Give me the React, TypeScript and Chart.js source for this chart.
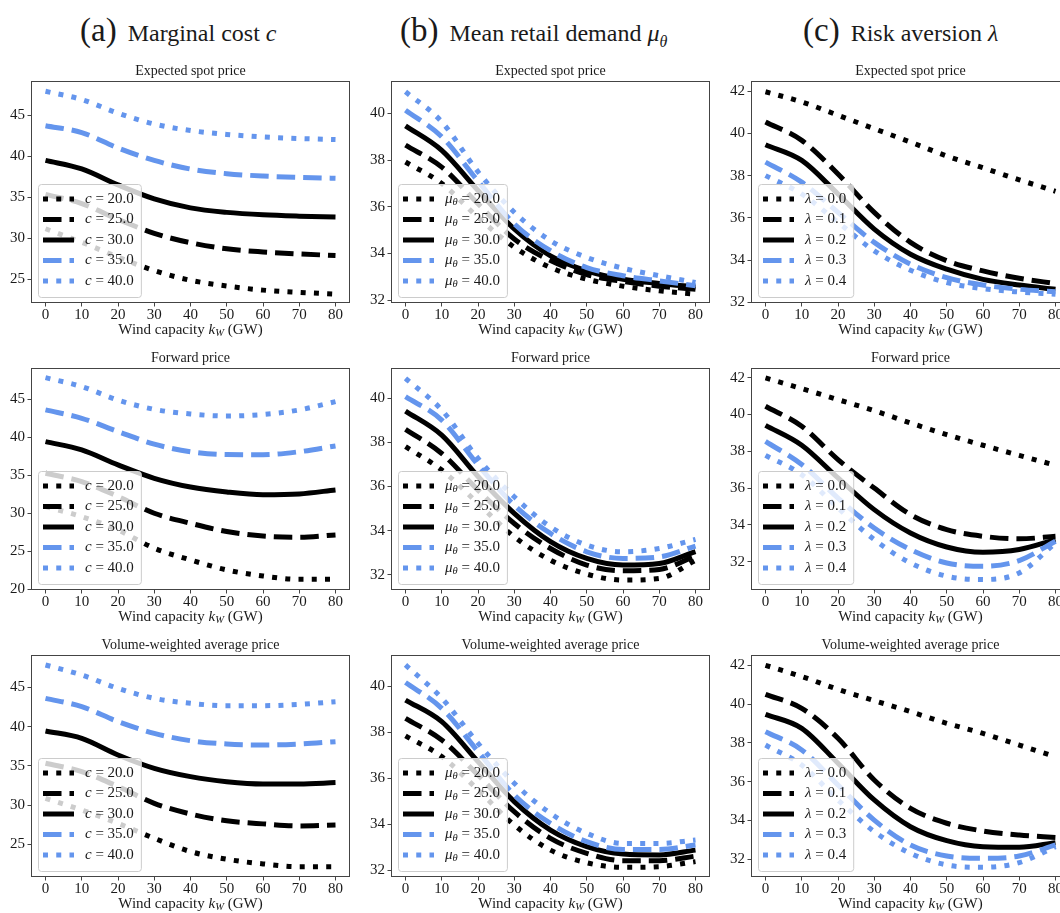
import React, { useEffect, useRef } from "react";
import { Chart, registerables } from "chart.js";
Chart.register(...registerables);

// ---------------- data ----------------
const X_VALUES = [0, 10, 20, 30, 40, 50, 60, 70, 80];
const X_TICKS = [0, 10, 20, 30, 40, 50, 60, 70, 80];

const COST_LABELS = ["20.0", "25.0", "30.0", "35.0", "40.0"];
const DEMAND_LABELS = ["20.0", "25.0", "30.0", "35.0", "40.0"];
const RISK_LABELS = ["0.0", "0.1", "0.2", "0.3", "0.4"];

const Y_TICKS_COST_SPOT = [25, 30, 35, 40, 45];
const Y_TICKS_COST_FWD = [20, 25, 30, 35, 40, 45];
const Y_TICKS_COST_VWAP = [25, 30, 35, 40, 45];
const Y_TICKS_DEMAND = [32, 34, 36, 38, 40];
const Y_TICKS_RISK = [32, 34, 36, 38, 40, 42];

// (a) marginal cost — expected spot price
const SPOT_COST = [
  [31.15, 29.5, 27.7, 26.05, 24.87, 24.17, 23.67, 23.4, 23.19],
  [35.35, 34.23, 32.3, 30.6, 29.45, 28.71, 28.33, 28.08, 27.89],
  [39.49, 38.45, 36.5, 34.8, 33.7, 33.15, 32.85, 32.69, 32.59],
  [43.72, 42.88, 41.0, 39.48, 38.43, 37.87, 37.58, 37.42, 37.31],
  [47.92, 46.91, 45.25, 43.92, 43.13, 42.66, 42.35, 42.16, 42.03],
];
// (b) mean retail demand — expected spot price
const SPOT_DEMAND = [
  [37.92, 37.0, 35.55, 34.27, 33.4, 32.9, 32.6, 32.4, 32.26],
  [38.64, 37.7, 36.13, 34.62, 33.7, 33.1, 32.8, 32.6, 32.47],
  [39.47, 38.42, 36.7, 35.05, 33.9, 33.26, 32.9, 32.72, 32.57],
  [40.14, 39.0, 37.1, 35.27, 34.12, 33.4, 33.05, 32.83, 32.62],
  [40.93, 39.64, 37.5, 35.77, 34.55, 33.83, 33.37, 33.05, 32.76],
];
// (c) risk aversion — expected spot price
const SPOT_RISK = [
  [41.97, 41.49, 40.86, 40.22, 39.59, 38.93, 38.37, 37.8, 37.26],
  [40.54, 39.67, 38.08, 36.26, 34.84, 33.97, 33.49, 33.14, 32.89],
  [39.46, 38.72, 37.13, 35.47, 34.28, 33.57, 33.09, 32.82, 32.62],
  [38.64, 37.69, 36.26, 34.84, 33.81, 33.17, 32.82, 32.62, 32.5],
  [38.0, 37.13, 35.79, 34.44, 33.52, 32.94, 32.65, 32.49, 32.38],
];
// forward price
const FWD_COST = [
  [30.88, 29.56, 27.8, 25.4, 23.86, 22.54, 21.75, 21.3, 21.3],
  [35.26, 34.17, 32.2, 30.0, 28.68, 27.6, 27.0, 26.84, 27.15],
  [39.43, 38.33, 36.36, 34.6, 33.45, 32.8, 32.45, 32.55, 33.07],
  [43.6, 42.5, 40.75, 39.1, 38.1, 37.72, 37.7, 38.1, 38.86],
  [47.85, 46.67, 44.9, 43.68, 43.07, 42.8, 43.0, 43.6, 44.7],
];
const FWD_DEMAND = [
  [37.8, 36.74, 35.23, 33.72, 32.66, 32.03, 31.76, 31.83, 32.65],
  [38.58, 37.49, 35.83, 34.32, 33.19, 32.44, 32.18, 32.24, 32.85],
  [39.41, 38.32, 36.45, 34.78, 33.5, 32.74, 32.44, 32.51, 33.05],
  [40.06, 39.0, 36.97, 35.15, 33.87, 33.04, 32.74, 32.81, 33.3],
  [40.89, 39.46, 37.27, 35.53, 34.17, 33.34, 33.04, 33.19, 33.6],
];
const FWD_RISK = [
  [41.99, 41.41, 40.81, 40.21, 39.54, 38.91, 38.33, 37.78, 37.24],
  [40.45, 39.36, 37.55, 36.0, 34.56, 33.74, 33.38, 33.24, 33.38],
  [39.41, 38.33, 36.55, 34.83, 33.56, 32.8, 32.51, 32.66, 33.2],
  [38.54, 37.28, 35.46, 33.83, 32.66, 31.93, 31.75, 32.06, 33.11],
  [37.78, 36.73, 34.92, 33.2, 31.93, 31.21, 31.03, 31.39, 33.02],
];
// volume-weighted average price
const VWAP_COST = [
  [30.86, 29.37, 27.67, 25.76, 24.07, 23.09, 22.5, 22.15, 22.15],
  [35.32, 34.26, 32.35, 30.22, 28.86, 28.0, 27.6, 27.34, 27.46],
  [39.44, 38.5, 36.38, 34.68, 33.62, 32.98, 32.69, 32.69, 32.86],
  [43.6, 42.54, 40.63, 39.14, 38.2, 37.78, 37.65, 37.78, 38.08],
  [47.85, 46.57, 44.87, 43.6, 42.96, 42.66, 42.66, 42.83, 43.17],
];
const VWAP_DEMAND = [
  [37.84, 36.94, 35.49, 33.96, 32.87, 32.32, 32.12, 32.15, 32.37],
  [38.6, 37.66, 36.14, 34.54, 33.38, 32.73, 32.41, 32.41, 32.61],
  [39.4, 38.46, 36.72, 34.98, 33.74, 33.02, 32.7, 32.66, 32.87],
  [40.16, 39.04, 37.16, 35.27, 34.03, 33.24, 32.9, 32.9, 33.09],
  [40.93, 39.48, 37.52, 35.78, 34.47, 33.6, 33.16, 33.16, 33.31],
];
const VWAP_RISK = [
  [42.0, 41.42, 40.76, 40.18, 39.61, 39.01, 38.49, 37.89, 37.29],
  [40.5, 39.78, 38.24, 36.09, 34.63, 33.86, 33.46, 33.25, 33.13],
  [39.47, 38.75, 36.95, 35.06, 33.68, 32.96, 32.65, 32.62, 32.86],
  [38.58, 37.64, 35.83, 34.02, 32.74, 32.17, 32.05, 32.17, 32.74],
  [37.89, 36.86, 35.06, 33.43, 32.31, 31.71, 31.59, 31.83, 32.65],
];

// ---------------- layout / style ----------------
const FONT = "'Liberation Serif', 'DejaVu Serif', serif";
const BLUE = "#6495ED";
const STYLES = [
  { color: "#000000", dash: [5, 8.25] },
  { color: "#000000", dash: [18.5, 8] },
  { color: "#000000", dash: [] as number[] },
  { color: BLUE, dash: [18.5, 8] },
  { color: BLUE, dash: [5, 8.25] },
];
const COL_LEFT = [31, 391, 751];
const ROW_TOP = [81, 368, 655];
const BOX_W = 319;
const BOX_H = 222;
const PAD_L = 31;
const PAD_T = 22;
const PAD_R = 12;
const PAD_B = 40;
const X_MIN = -4;
const X_MAX = 84;

type Part = { t: string; it?: boolean; sub?: boolean };

function measureParts(ctx: CanvasRenderingContext2D, parts: Part[], size: number) {
  let w = 0;
  for (const p of parts) {
    const s = p.sub ? size * 0.7 : size;
    ctx.font = `${p.it ? "italic " : ""}${s}px ${FONT}`;
    w += ctx.measureText(p.t).width;
  }
  return w;
}
function drawParts(ctx: CanvasRenderingContext2D, parts: Part[], x: number, y: number, size: number) {
  let cx = x;
  ctx.textBaseline = "middle";
  ctx.textAlign = "left";
  for (const p of parts) {
    const s = p.sub ? size * 0.7 : size;
    ctx.font = `${p.it ? "italic " : ""}${s}px ${FONT}`;
    ctx.fillText(p.t, cx, p.sub ? y + size * 0.22 : y);
    cx += ctx.measureText(p.t).width;
  }
  return cx - x;
}
function legendParts(sym: string, label: string): Part[] {
  if (sym === "mu") return [{ t: "μ", it: true }, { t: "θ", it: true, sub: true }, { t: " = " + label }];
  if (sym === "lambda") return [{ t: "λ", it: true }, { t: " = " + label }];
  return [{ t: "c", it: true }, { t: " = " + label }];
}

const decorPlugin = {
  id: "panelDecor",
  afterDraw(chart: any, _args: any, opts: any) {
    const ctx: CanvasRenderingContext2D = chart.ctx;
    const a = chart.chartArea;
    ctx.save();
    // legend
    const size = 15;
    const entries = opts.labels.map((l: string) => legendParts(opts.sym, l));
    let maxW = 0;
    for (const e of entries) maxW = Math.max(maxW, measureParts(ctx, e, size));
    const lw = 47 + maxW + 7;
    const lh = 113;
    const lx = a.left + 7;
    const ly = a.bottom - 6 - lh;
    ctx.beginPath();
    (ctx as any).roundRect(lx + 0.5, ly + 0.5, lw, lh, 3);
    ctx.fillStyle = "rgba(255,255,255,0.8)";
    ctx.fill();
    ctx.strokeStyle = "#cccccc";
    ctx.lineWidth = 1;
    ctx.stroke();
    entries.forEach((e: Part[], i: number) => {
      const cy = ly + 15 + i * 20.5;
      ctx.beginPath();
      ctx.setLineDash(STYLES[i].dash);
      ctx.lineWidth = 5;
      ctx.lineCap = "butt";
      ctx.strokeStyle = STYLES[i].color;
      ctx.moveTo(lx + 5, cy);
      ctx.lineTo(lx + 36, cy);
      ctx.stroke();
      ctx.setLineDash([]);
      ctx.fillStyle = "#1a1a1a";
      drawParts(ctx, e, lx + 47, cy, size);
    });
    // frame
    ctx.setLineDash([]);
    ctx.strokeStyle = "#444444";
    ctx.lineWidth = 1;
    ctx.strokeRect(Math.round(a.left) + 0.5, Math.round(a.top) + 0.5, Math.round(a.right - a.left) - 1, Math.round(a.bottom - a.top) - 1);
    // title
    const cx = (a.left + a.right) / 2;
    ctx.fillStyle = "#1a1a1a";
    ctx.font = `14px ${FONT}`;
    ctx.textAlign = "center";
    ctx.textBaseline = "middle";
    ctx.fillText(opts.title, cx, a.top - 10);
    // x label
    const xl: Part[] = [{ t: "Wind capacity " }, { t: "k", it: true }, { t: "W", it: true, sub: true }, { t: " (GW)" }];
    const w = measureParts(ctx, xl, 15);
    drawParts(ctx, xl, cx - w / 2, a.bottom + 27, 15);
    ctx.restore();
  },
};

type PanelCfg = {
  row: number;
  col: number;
  title: string;
  series: number[][];
  sym: string;
  labels: string[];
  yMin: number;
  yMax: number;
  yTicks: number[];
};

const PANELS: PanelCfg[] = [
  { row: 0, col: 0, title: "Expected spot price", series: SPOT_COST, sym: "c", labels: COST_LABELS, yMin: 22.1, yMax: 49.17, yTicks: Y_TICKS_COST_SPOT },
  { row: 0, col: 1, title: "Expected spot price", series: SPOT_DEMAND, sym: "mu", labels: DEMAND_LABELS, yMin: 31.88, yMax: 41.39, yTicks: Y_TICKS_DEMAND },
  { row: 0, col: 2, title: "Expected spot price", series: SPOT_RISK, sym: "lambda", labels: RISK_LABELS, yMin: 31.97, yMax: 42.48, yTicks: Y_TICKS_RISK },
  { row: 1, col: 0, title: "Forward price", series: FWD_COST, sym: "c", labels: COST_LABELS, yMin: 19.9, yMax: 49.12, yTicks: Y_TICKS_COST_FWD },
  { row: 1, col: 1, title: "Forward price", series: FWD_DEMAND, sym: "mu", labels: DEMAND_LABELS, yMin: 31.31, yMax: 41.36, yTicks: Y_TICKS_DEMAND },
  { row: 1, col: 2, title: "Forward price", series: FWD_RISK, sym: "lambda", labels: RISK_LABELS, yMin: 30.46, yMax: 42.53, yTicks: Y_TICKS_RISK },
  { row: 2, col: 0, title: "Volume-weighted average price", series: VWAP_COST, sym: "c", labels: COST_LABELS, yMin: 20.83, yMax: 49.12, yTicks: Y_TICKS_COST_VWAP },
  { row: 2, col: 1, title: "Volume-weighted average price", series: VWAP_DEMAND, sym: "mu", labels: DEMAND_LABELS, yMin: 31.7, yMax: 41.36, yTicks: Y_TICKS_DEMAND },
  { row: 2, col: 2, title: "Volume-weighted average price", series: VWAP_RISK, sym: "lambda", labels: RISK_LABELS, yMin: 31.09, yMax: 42.53, yTicks: Y_TICKS_RISK },
];

function Panel({ cfg }: { cfg: PanelCfg }) {
  const ref = useRef<HTMLCanvasElement>(null);
  const W = PAD_L + BOX_W + PAD_R;
  const H = PAD_T + BOX_H + PAD_B;
  useEffect(() => {
    const tickFont = { family: FONT, size: 15, lineHeight: 1 };
    const chart = new Chart(ref.current as HTMLCanvasElement, {
      type: "line",
      data: {
        datasets: cfg.series.map((ys, i) => ({
          label: cfg.labels[i],
          data: X_VALUES.map((x, j) => ({ x, y: ys[j] })),
          borderColor: STYLES[i].color,
          backgroundColor: STYLES[i].color,
          borderWidth: 5,
          borderDash: STYLES[i].dash,
          borderCapStyle: "butt",
          borderJoinStyle: "round",
          pointRadius: 0,
          cubicInterpolationMode: "monotone",
          fill: false,
          order: cfg.series.length - 1 - i,
        })),
      },
      options: {
        animation: false,
        responsive: false,
        devicePixelRatio: 1,
        layout: { padding: { left: 0, top: PAD_T, right: PAD_R, bottom: 0 } },
        plugins: {
          legend: { display: false },
          tooltip: { enabled: false },
          title: { display: false },
          panelDecor: { title: cfg.title, labels: cfg.labels, sym: cfg.sym },
        } as any,
        scales: {
          x: {
            type: "linear",
            min: X_MIN,
            max: X_MAX,
            afterBuildTicks: (s: any) => {
              s.ticks = X_TICKS.map((v) => ({ value: v }));
            },
            afterFit: (s: any) => {
              s.height = PAD_B;
            },
            grid: { display: true, drawOnChartArea: false, drawTicks: true, tickLength: 3.5, color: "#444444", lineWidth: 1 },
            border: { display: false },
            ticks: { font: tickFont, color: "#1a1a1a", padding: 1, maxRotation: 0, autoSkip: false, callback: (v: any) => String(v) },
          },
          y: {
            type: "linear",
            min: cfg.yMin,
            max: cfg.yMax,
            afterBuildTicks: (s: any) => {
              s.ticks = cfg.yTicks.map((v) => ({ value: v }));
            },
            afterFit: (s: any) => {
              s.width = PAD_L;
            },
            grid: { display: true, drawOnChartArea: false, drawTicks: true, tickLength: 3.5, color: "#444444", lineWidth: 1 },
            border: { display: false },
            ticks: { font: tickFont, color: "#1a1a1a", padding: 2.5, autoSkip: false, callback: (v: any) => String(v) },
          },
        },
      } as any,
      plugins: [decorPlugin as any],
    });
    return () => chart.destroy();
  }, []);
  return (
    <canvas
      ref={ref}
      width={W}
      height={H}
      style={{
        position: "absolute",
        left: COL_LEFT[cfg.col] - PAD_L,
        top: ROW_TOP[cfg.row] - PAD_T,
        width: W,
        height: H,
      }}
    />
  );
}

const headerStyle: React.CSSProperties = {
  position: "absolute",
  top: 10,
  whiteSpace: "nowrap",
  fontFamily: FONT,
  color: "#1a1a1a",
  lineHeight: "40px",
  display: "flex",
  alignItems: "baseline",
};

export default function App() {
  return (
    <div
      style={{
        position: "absolute",
        left: 0,
        top: 0,
        width: 1060,
        height: 913,
        overflow: "hidden",
        background: "#ffffff",
        fontFamily: FONT,
      }}
    >
      <div style={{ ...headerStyle, left: 80 }}>
        <span style={{ fontSize: 33 }}>(a)</span>
        <span style={{ fontSize: 24, marginLeft: 11 }}>
          Marginal cost <i>c</i>
        </span>
      </div>
      <div style={{ ...headerStyle, left: 400 }}>
        <span style={{ fontSize: 33 }}>(b)</span>
        <span style={{ fontSize: 24, marginLeft: 11 }}>
          Mean retail demand <i>μ</i>
          <sub style={{ fontSize: 16 }}>
            <i>θ</i>
          </sub>
        </span>
      </div>
      <div style={{ ...headerStyle, left: 803 }}>
        <span style={{ fontSize: 33 }}>(c)</span>
        <span style={{ fontSize: 24, marginLeft: 11 }}>
          Risk aversion <i>λ</i>
        </span>
      </div>
      {PANELS.map((p, i) => (
        <Panel key={i} cfg={p} />
      ))}
    </div>
  );
}
